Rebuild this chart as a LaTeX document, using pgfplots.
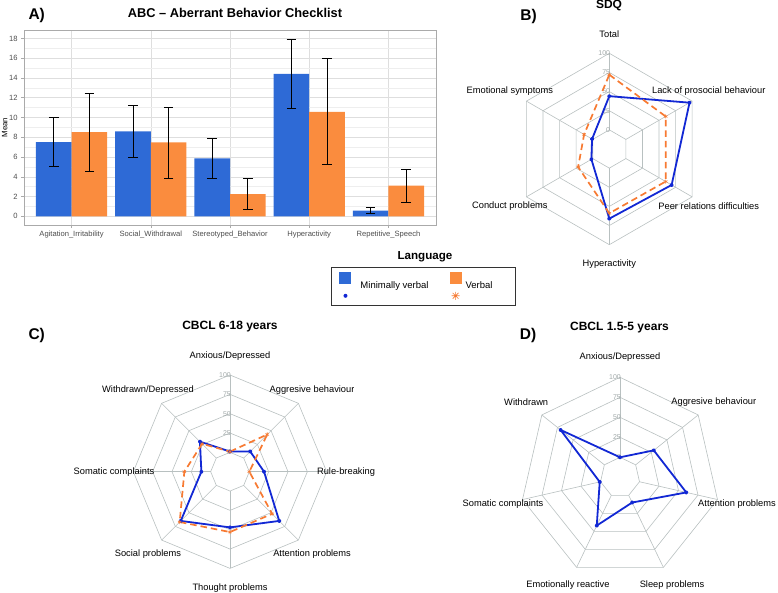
\documentclass[border=0pt]{standalone}
\usepackage{fontspec}
\setmainfont{Liberation Sans}
\usepackage{pgfplots}
\usepackage{pgfplotstable}
\pgfplotsset{compat=1.18}

\definecolor{barblue}{RGB}{46,106,214}
\definecolor{barorange}{RGB}{250,140,62}
\definecolor{radblue}{RGB}{18,40,212}
\definecolor{radorange}{RGB}{247,122,50}
\definecolor{gridc}{RGB}{184,192,192}
\definecolor{scalec}{RGB}{160,168,168}
\definecolor{ticktxt}{RGB}{77,77,77}
\definecolor{panelgrid}{RGB}{222,222,222}
\definecolor{panelminor}{RGB}{238,238,238}
\definecolor{panelborder}{RGB}{170,170,170}

% ABC means with lower / upper error bar ends
\pgfplotstableread{
x m lo hi
1 7.50 5.08 10.03
2 8.58 5.96 11.24
3 5.85 3.80 7.91
4 14.40 10.94 17.90
5 0.57 0.27 0.91
}\abcmv
\pgfplotstableread{
x m lo hi
1 8.51 4.54 12.45
2 7.47 3.84 11.00
3 2.25 0.67 3.80
4 10.57 5.25 15.98
5 3.10 1.45 4.78
}\abcv
% SDQ (angle of spoke, minimally verbal, verbal)
\pgfplotstableread{
a mv vb
90 44 72
30 96 60
-30 69 60
-90 66 59
-150 2 22
150 1 13
}\sdq
% CBCL 6-18
\pgfplotstableread{
a mv vb
90 1 1
45 12 43
0 19 0
-45 65 52
-90 47 53
-135 65 67
180 12 34
135 30 26
}\cbclA
% CBCL 1.5-5
\pgfplotstableread{
a mv
90 0
38.571 29
-12.857 60
-64.286 10
-115.714 42
-167.143 1
141.429 70
}\cbclB

\newcommand{\lab}{\fontsize{9.3}{11}\selectfont}
\newcommand{\ttl}{\fontsize{12}{14}\selectfont\bfseries}
\newcommand{\pnl}{\fontsize{15.5}{18}\selectfont\bfseries}

% radar grid: #1 cx, #2 cy, #3 R, #4 number of spokes
\newcommand{\radargrid}[4]{%
  \pgfmathsetmacro{\ru}{#3/125}%
  \pgfmathsetmacro{\rstep}{360/#4}%
  \pgfmathtruncatemacro{\rlast}{#4-1}%
  \begin{scope}[shift={(#1pt,#2pt)}, x=\ru pt, y=\ru pt]
    \foreach \r in {25,50,75,100,125}{
      \draw[gridc, line width=0.6pt, line join=round] (90:\r) \foreach \k in {1,...,\rlast}{ -- ({90-\k*\rstep}:\r)} -- cycle;
    }
    \foreach \k in {0,...,\rlast}{
      \draw[gridc, line width=0.6pt] ({90-\k*\rstep}:25) -- ({90-\k*\rstep}:125);
    }
    \foreach \v in {0,25,50,75,100}{
      \node[anchor=east, inner sep=0pt, text=scalec, font=\fontsize{7}{8}\selectfont] at (1.3,\v+25) {\v};
    }
  \end{scope}}
% radar label: #1 cx, #2 cy, #3 R, #4 angle, #5 text
\newcommand{\rlabel}[5]{\path (#1pt,#2pt) ++(#4:{1.2*#3 pt}) node[font=\lab, inner sep=0pt] {#5};}

\pgfplotsset{
  rblue/.style={radblue, line width=1.8pt, line join=round, mark=*, mark size=1.2pt},
  rorange/.style={radorange, line width=1.7pt, line join=round, dash pattern=on 6.5pt off 4pt, mark=asterisk, mark size=2pt, mark options={solid, line width=0.6pt}},
  ebar/.style={draw=none, mark=none, forget plot,
    error bars/.cd, y dir=both, y explicit, error mark=|,
    error bar style={black, line width=0.8pt, solid},
    error mark options={black, line width=0.8pt, mark size=4.8pt, solid}},
}

\begin{document}
\begin{tikzpicture}[x=1pt,y=1pt]
\useasboundingbox (0pt,0pt) rectangle (778pt,593pt);

% ---------------- Panel A ----------------
\begin{axis}[
  at={(24pt,368pt)}, anchor=south west, scale only axis,
  width=412pt, height=194.5pt,
  xmin=0.4, xmax=5.6, ymin=-0.88, ymax=18.8,
  xtick={1,...,5},
  xticklabels={Agitation\_Irritability, Social\_Withdrawal, Stereotyped\_Behavior, Hyperactivity, Repetitive\_Speech},
  ytick={0,2,...,18}, minor ytick={1,3,...,17},
  ymajorgrids, yminorgrids, xmajorgrids,
  major grid style={panelgrid, line width=0.5pt},
  minor grid style={panelminor, line width=0.3pt},
  axis line style={panelborder, line width=0.9pt},
  xtick pos=bottom, ytick pos=left,
  tick align=outside, major tick length=2.8pt, minor tick length=0pt,
  tick style={panelborder, line width=0.5pt},
  ticklabel style={font=\fontsize{7.6}{9}\selectfont, text=ticktxt},
  /pgf/number format/assume math mode=true,
  ylabel={Mean},
  ylabel style={at={(axis description cs:-0.047,0.5)}, anchor=center, font=\fontsize{7.8}{9}\selectfont},
  legend style={at={(0.9697,-0.2159)}, anchor=north, legend columns=2,
    draw=black!80, line width=0.6pt, font=\fontsize{9.5}{11}\selectfont,
    inner xsep=8pt, inner ysep=5pt,
    /tikz/every even column/.append style={column sep=19pt}},
  legend cell align=left,
]
\addplot[ybar, bar width=0.45, bar shift=-0.225, fill=barblue, draw=none, forget plot]
  table[x=x, y=m] {\abcmv};
\addplot[ybar, bar width=0.45, bar shift=0.225, fill=barorange, draw=none, forget plot]
  table[x=x, y=m] {\abcv};
\addplot[ebar]
  table[x expr=\thisrow{x}-0.225, y=m, y error plus expr=\thisrow{hi}-\thisrow{m}, y error minus expr=\thisrow{m}-\thisrow{lo}] {\abcmv};
\addplot[ebar]
  table[x expr=\thisrow{x}+0.225, y=m, y error plus expr=\thisrow{hi}-\thisrow{m}, y error minus expr=\thisrow{m}-\thisrow{lo}] {\abcv};
\addlegendimage{legend image code/.code={\path[draw=none, fill=none] (0pt,0pt) rectangle (19pt,1pt); \fill[barblue, draw=none] (0pt,2pt) rectangle (12pt,14pt); \fill[radblue, draw=none] (6pt,-9.5pt) circle (2pt);}}
\addlegendentry{Minimally verbal}
\addlegendimage{legend image code/.code={\path[draw=none, fill=none] (0pt,0pt) rectangle (14pt,1pt); \fill[barorange, draw=none] (0pt,2pt) rectangle (12pt,14pt);
  \draw[radorange,line width=0.6pt] (6pt,-9.5pt) +(-4pt,0pt) -- +(4pt,0pt) +(0pt,-4pt) -- +(0pt,4pt) +(-2.9pt,-2.9pt) -- +(2.9pt,2.9pt) +(-2.9pt,2.9pt) -- +(2.9pt,-2.9pt);}}
\addlegendentry{Verbal\kern13pt\null}
\end{axis}
\node[font=\pnl] at (36.7pt,577.5pt) {A)};
\node[font=\fontsize{12.8}{15}\selectfont\bfseries] at (235pt,580.3pt) {ABC – Aberrant Behavior Checklist};
\node[font=\fontsize{11.6}{13}\selectfont\bfseries] at (425pt,336.3pt) {Language};

% ---------------- Panel B ----------------
\radargrid{609.3}{444}{95.7}{6}
\rlabel{609.3}{444}{95.7}{90}{Total}
\rlabel{609.3}{444}{95.7}{30}{Lack of prosocial behaviour}
\rlabel{609.3}{444}{95.7}{-30}{Peer relations difficulties}
\rlabel{609.3}{444}{95.7}{-90}{Hyperactivity}
\rlabel{609.3}{444}{95.7}{-150}{Conduct problems}
\rlabel{609.3}{444}{95.7}{150}{Emotional symptoms}
\begin{axis}[at={(513.6pt,348.3pt)}, anchor=south west, scale only axis,
  width=191.4pt, height=191.4pt, xmin=-125, xmax=125, ymin=-125, ymax=125,
  hide axis, clip=false]
\addplot[rblue]
  table[x expr={(\thisrow{mv}+25)*cos(\thisrow{a})}, y expr={(\thisrow{mv}+25)*sin(\thisrow{a})}] {\sdq} -- cycle;
\addplot[rorange]
  table[x expr={(\thisrow{vb}+25)*cos(\thisrow{a})}, y expr={(\thisrow{vb}+25)*sin(\thisrow{a})}] {\sdq} -- cycle;
\end{axis}
\node[font=\pnl] at (528.5pt,576.3pt) {B)};
\node[font=\ttl] at (609pt,587.5pt) {SDQ};

% ---------------- Panel C ----------------
\radargrid{230}{121.3}{96.7}{8}
\rlabel{230}{121.3}{96.7}{90}{Anxious/Depressed}
\begin{scope}
\clip (0pt,0pt) rectangle (353pt,593pt);
\rlabel{230}{121.3}{96.7}{45}{Aggresive behaviour}
\end{scope}
\rlabel{230}{121.3}{96.7}{0}{Rule-breaking}
\rlabel{230}{121.3}{96.7}{-45}{Attention problems}
\rlabel{230}{121.3}{96.7}{-90}{Thought problems}
\rlabel{230}{121.3}{96.7}{-135}{Social problems}
\rlabel{230}{121.3}{96.7}{180}{Somatic complaints}
\rlabel{230}{121.3}{96.7}{135}{Withdrawn/Depressed}
\begin{axis}[at={(133.3pt,24.6pt)}, anchor=south west, scale only axis,
  width=193.4pt, height=193.4pt, xmin=-125, xmax=125, ymin=-125, ymax=125,
  hide axis, clip=false]
\addplot[rblue]
  table[x expr={(\thisrow{mv}+25)*cos(\thisrow{a})}, y expr={(\thisrow{mv}+25)*sin(\thisrow{a})}] {\cbclA} -- cycle;
\addplot[rorange]
  table[x expr={(\thisrow{vb}+25)*cos(\thisrow{a})}, y expr={(\thisrow{vb}+25)*sin(\thisrow{a})}] {\cbclA} -- cycle;
\end{axis}
\node[font=\pnl] at (36.7pt,258pt) {C)};
\node[font=\ttl] at (230pt,266pt) {CBCL 6-18 years};

% ---------------- Panel D ----------------
\radargrid{620}{115.7}{100}{7}
\rlabel{620}{115.7}{100}{90}{Anxious/Depressed}
\rlabel{620}{115.7}{100}{38.571}{Aggresive behaviour}
\rlabel{620}{115.7}{100}{-12.857}{Attention problems}
\rlabel{620}{115.7}{100}{-64.286}{Sleep problems}
\rlabel{620}{115.7}{100}{-115.714}{Emotionally reactive}
\rlabel{620}{115.7}{100}{-167.143}{Somatic complaints}
\rlabel{620}{115.7}{100}{141.429}{Withdrawn}
\begin{axis}[at={(520pt,15.7pt)}, anchor=south west, scale only axis,
  width=200pt, height=200pt, xmin=-125, xmax=125, ymin=-125, ymax=125,
  hide axis, clip=false]
\addplot[rblue]
  table[x expr={(\thisrow{mv}+25)*cos(\thisrow{a})}, y expr={(\thisrow{mv}+25)*sin(\thisrow{a})}] {\cbclB} -- cycle;
\end{axis}
\node[font=\pnl] at (528pt,258pt) {D)};
\node[font=\ttl] at (619.5pt,265pt) {CBCL 1.5-5 years};
\end{tikzpicture}
\end{document}
